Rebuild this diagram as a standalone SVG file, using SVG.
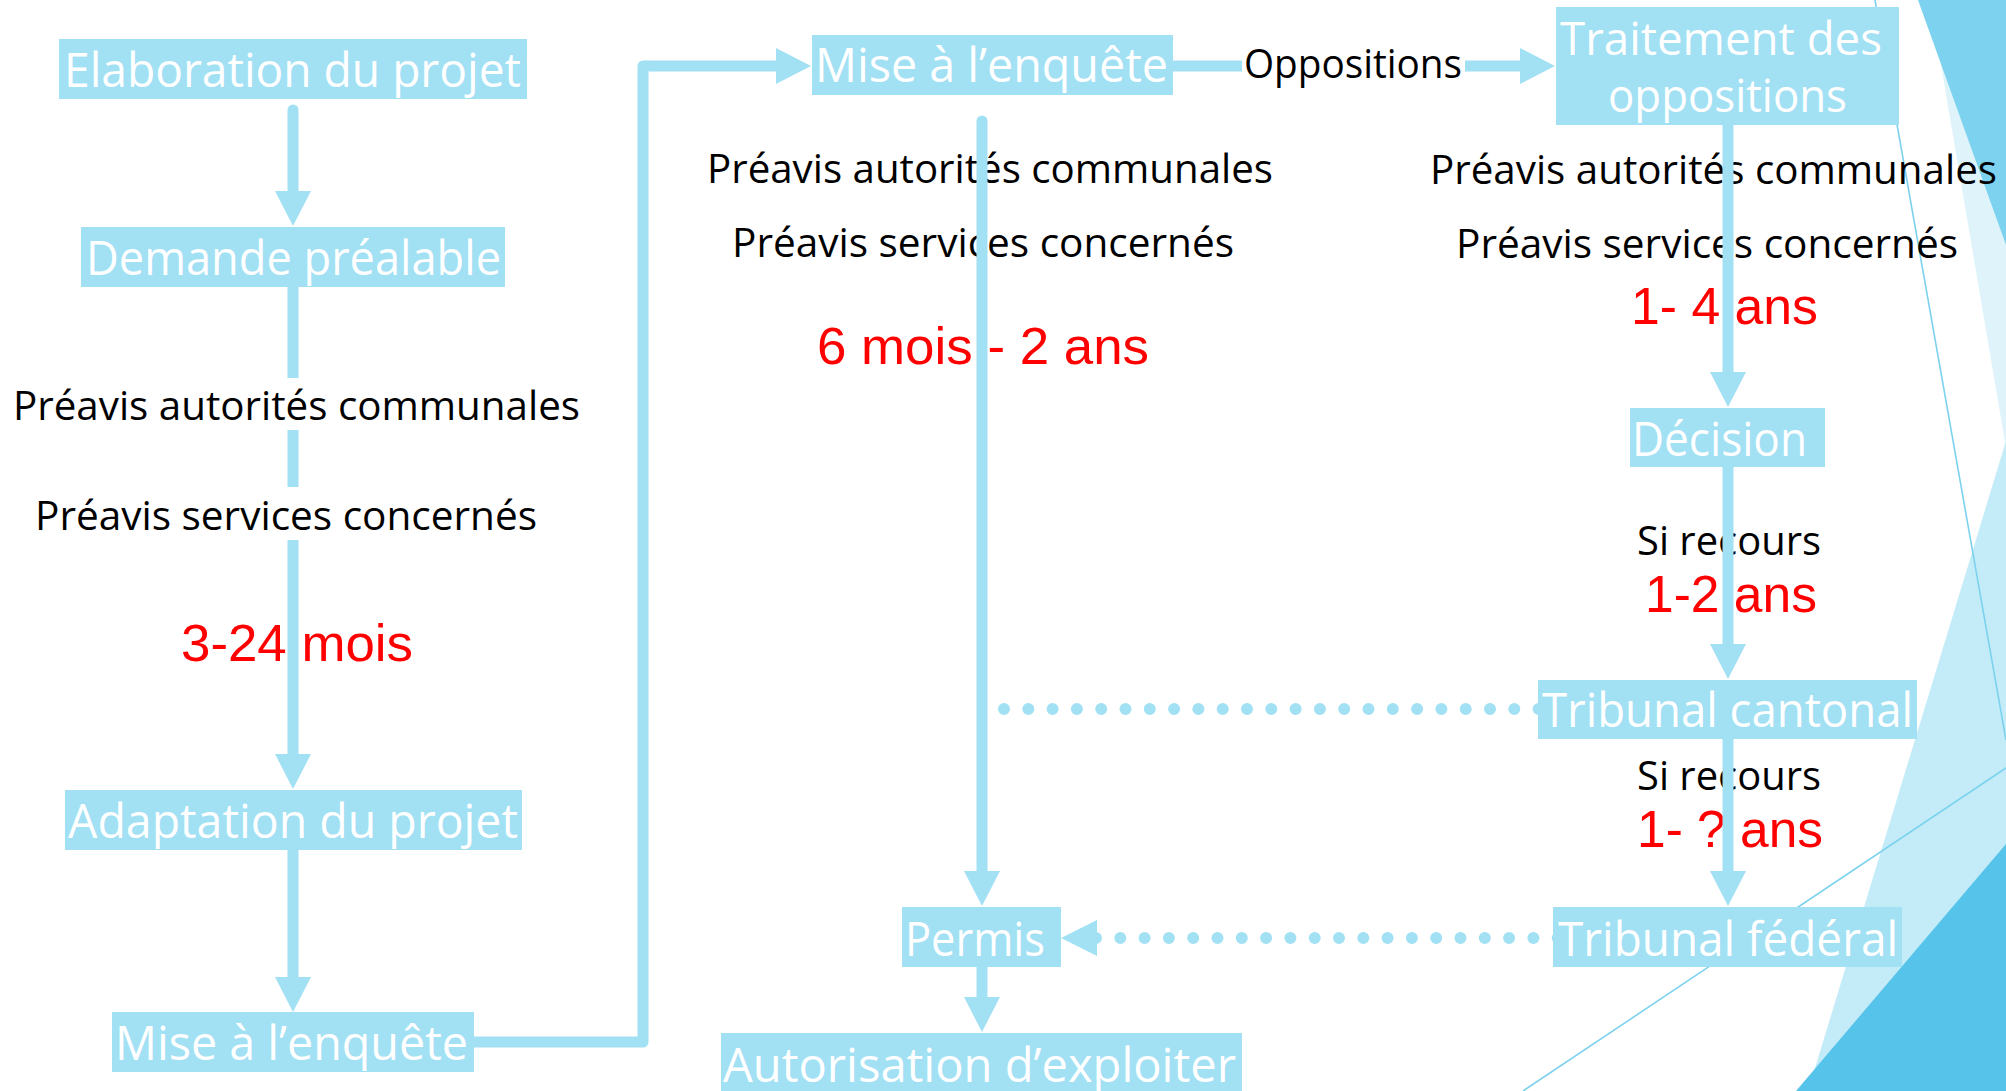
<svg xmlns="http://www.w3.org/2000/svg" width="2006" height="1091" viewBox="0 0 2006 1091">
<style>
.bg{fill:#ffffff}
.node rect{fill:#A2E0F4}
.node text{font-family:"Open Sans","Noto Sans",sans-serif;font-size:48px;fill:#ffffff}
.lbl{font-family:"Open Sans","Noto Sans",sans-serif;font-size:40px;fill:#000000}
.dur{font-family:"Liberation Sans",Arial,sans-serif;font-size:52px;fill:#FF0000}
.conn{stroke:#A2E0F4;stroke-width:11;fill:none;stroke-linecap:round;stroke-linejoin:round}
.dots{stroke:#A2E0F4;stroke-width:12;fill:none;stroke-linecap:round;stroke-dasharray:0 24.3}
.head{fill:#A2E0F4}
.deco{stroke:#7CD2EE;stroke-width:1.6;fill:none}
</style>
<defs>
<marker id="arr" markerUnits="userSpaceOnUse" markerWidth="35" markerHeight="36" viewBox="0 0 35 36" refX="1" refY="18" orient="auto">
<path d="M0,0 L35,18 L0,36 Z" fill="#A2E0F4"/>
</marker>
</defs>
<rect class="bg" x="0" y="0" width="2006" height="1091"/>
<g id="decor">
<polygon points="1930,0 2006,0 2006,448" fill="#DFF3FB"/>
<polygon points="1918,0 2006,0 2006,245" fill="#7DD3EF"/>
<polygon points="2006,441 2006,1091 1808,1091" fill="#C4EBF8"/>
<polygon points="2006,844 2006,1091 1796,1091" fill="#56C4EA"/>
<line class="deco" x1="1875" y1="0" x2="2006" y2="740"/>
<line class="deco" x1="2006" y1="768" x2="1523" y2="1091"/>
</g>
<g id="labels">
<text class="lbl" x="13" y="420" textLength="567" lengthAdjust="spacingAndGlyphs">Préavis autorités communales</text>
<text class="lbl" x="35" y="530" textLength="502" lengthAdjust="spacingAndGlyphs">Préavis services concernés</text>
<text class="dur" x="181" y="661" textLength="232" lengthAdjust="spacingAndGlyphs">3-24 mois</text>
<text class="lbl" x="707" y="183" textLength="566" lengthAdjust="spacingAndGlyphs">Préavis autorités communales</text>
<text class="lbl" x="732" y="257" textLength="502" lengthAdjust="spacingAndGlyphs">Préavis services concernés</text>
<text class="dur" x="817" y="364" textLength="332" lengthAdjust="spacingAndGlyphs">6 mois - 2 ans</text>
<text class="lbl" x="1244" y="78" textLength="218" lengthAdjust="spacingAndGlyphs">Oppositions</text>
<text class="lbl" x="1430" y="184" textLength="567" lengthAdjust="spacingAndGlyphs">Préavis autorités communales</text>
<text class="lbl" x="1456" y="258" textLength="502" lengthAdjust="spacingAndGlyphs">Préavis services concernés</text>
<text class="dur" x="1631" y="324" textLength="187" lengthAdjust="spacingAndGlyphs">1- 4 ans</text>
<text class="lbl" x="1637" y="555" textLength="184" lengthAdjust="spacingAndGlyphs">Si recours</text>
<text class="dur" x="1645" y="612" textLength="172" lengthAdjust="spacingAndGlyphs">1-2 ans</text>
<text class="lbl" x="1637" y="790" textLength="184" lengthAdjust="spacingAndGlyphs">Si recours</text>
<text class="dur" x="1637" y="847" textLength="186" lengthAdjust="spacingAndGlyphs">1- ? ans</text>
</g>
<g id="connectors">
<line class="conn" x1="293" y1="110" x2="293" y2="192" marker-end="url(#arr)"/>
<line class="conn" x1="293" y1="287" x2="293" y2="378" style="stroke-linecap:butt"/>
<line class="conn" x1="293" y1="430" x2="293" y2="487" style="stroke-linecap:butt"/>
<line class="conn" x1="293" y1="540" x2="293" y2="755" style="stroke-linecap:butt" marker-end="url(#arr)"/>
<line class="conn" x1="293" y1="850" x2="293" y2="978" style="stroke-linecap:butt" marker-end="url(#arr)"/>
<path class="conn" d="M474,1042 H643 V66 H777" marker-end="url(#arr)"/>
<line class="conn" x1="1173" y1="66" x2="1242" y2="66" style="stroke-linecap:butt"/>
<line class="conn" x1="1465" y1="66" x2="1521" y2="66" style="stroke-linecap:butt" marker-end="url(#arr)"/>
<line class="conn" x1="982" y1="121" x2="982" y2="872" marker-end="url(#arr)"/>
<line class="conn" x1="1728" y1="125" x2="1728" y2="373" style="stroke-linecap:butt" marker-end="url(#arr)"/>
<line class="conn" x1="1728" y1="467" x2="1728" y2="645" style="stroke-linecap:butt" marker-end="url(#arr)"/>
<line class="conn" x1="1728" y1="739" x2="1728" y2="872" style="stroke-linecap:butt" marker-end="url(#arr)"/>
<line class="conn" x1="982" y1="967" x2="982" y2="998" style="stroke-linecap:butt" marker-end="url(#arr)"/>
<line class="dots" x1="1004" y1="709" x2="1545" y2="709"/>
<line class="dots" x1="1096" y1="938" x2="1560" y2="938"/>
<polygon class="head" points="1097,920 1061,938 1097,956"/>
</g>
<g id="n-elaboration" class="node"><rect x="59" y="39" width="468" height="60"/><text x="64" y="87" textLength="457" lengthAdjust="spacingAndGlyphs">Elaboration du projet</text></g>
<g id="n-demande" class="node"><rect x="81" y="227" width="424" height="60"/><text x="86" y="275" textLength="415" lengthAdjust="spacingAndGlyphs">Demande préalable</text></g>
<g id="n-adaptation" class="node"><rect x="65" y="790" width="457" height="60"/><text x="68" y="838" textLength="450" lengthAdjust="spacingAndGlyphs">Adaptation du projet</text></g>
<g id="n-mise1" class="node"><rect x="112" y="1012" width="362" height="60"/><text x="115" y="1060" textLength="353" lengthAdjust="spacingAndGlyphs">Mise à l’enquête</text></g>
<g id="n-mise2" class="node"><rect x="812" y="35" width="361" height="60"/><text x="815" y="82" textLength="353" lengthAdjust="spacingAndGlyphs">Mise à l’enquête</text></g>
<g id="n-traitement" class="node"><rect x="1556" y="7" width="343" height="118"/><text x="1560" y="55" style="font-size:46px" textLength="322" lengthAdjust="spacingAndGlyphs">Traitement des</text><text x="1608" y="112" style="font-size:46px" textLength="239" lengthAdjust="spacingAndGlyphs">oppositions</text></g>
<g id="n-decision" class="node"><rect x="1630" y="408" width="195" height="59"/><text x="1632" y="456" textLength="175" lengthAdjust="spacingAndGlyphs">Décision</text></g>
<g id="n-cantonal" class="node"><rect x="1538" y="680" width="379" height="59"/><text x="1542" y="727" textLength="371" lengthAdjust="spacingAndGlyphs">Tribunal cantonal</text></g>
<g id="n-federal" class="node"><rect x="1553" y="907" width="349" height="60"/><text x="1558" y="956" textLength="340" lengthAdjust="spacingAndGlyphs">Tribunal fédéral</text></g>
<g id="n-permis" class="node"><rect x="902" y="907" width="159" height="60"/><text x="905" y="956" textLength="140" lengthAdjust="spacingAndGlyphs">Permis</text></g>
<g id="n-autorisation" class="node"><rect x="721" y="1033" width="521" height="62"/><text x="723" y="1082" textLength="513" lengthAdjust="spacingAndGlyphs">Autorisation d’exploiter</text></g>
</svg>
